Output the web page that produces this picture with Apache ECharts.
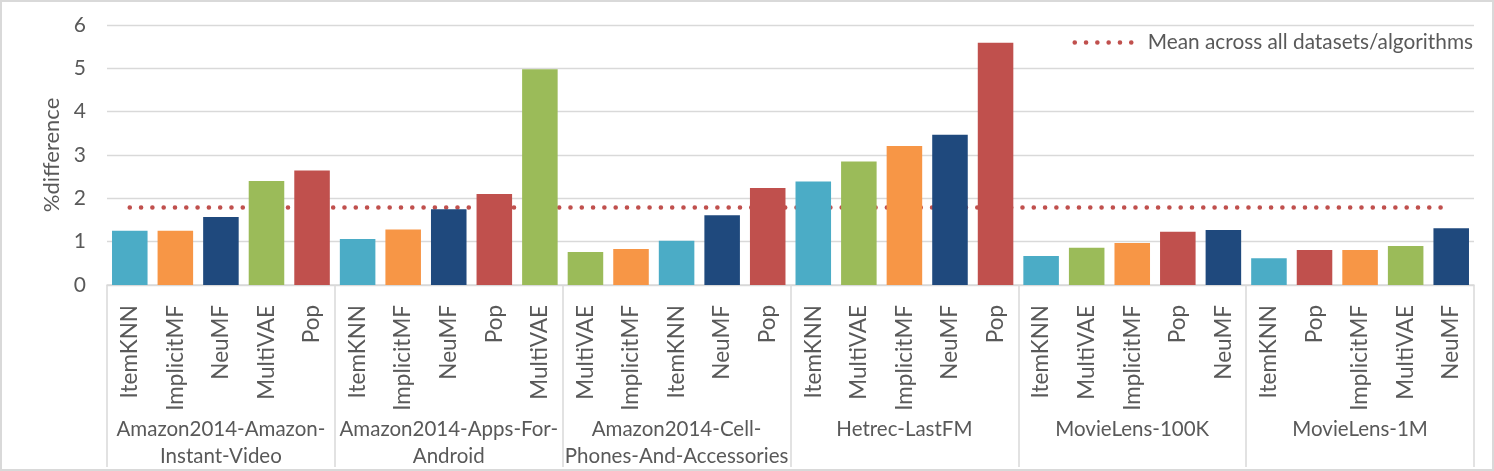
<!DOCTYPE html>
<html>
<head>
<meta charset="utf-8">
<script src="https://cdn.jsdelivr.net/npm/echarts@6/dist/echarts.min.js"></script>
<style>
  html, body { margin: 0; padding: 0; background: #fff; }
  #chart { width: 1494px; height: 471px; }
</style>
</head>
<body>
<div id="chart"></div>
<script>
// ---- data ----
const datasets = [
  'Amazon2014-Amazon-\nInstant-Video',
  'Amazon2014-Apps-For-\nAndroid',
  'Amazon2014-Cell-\nPhones-And-Accessories',
  'Hetrec-LastFM',
  'MovieLens-100K',
  'MovieLens-1M'
];
const algorithms = [
  'ItemKNN', 'ImplicitMF', 'NeuMF', 'MultiVAE', 'Pop',
  'ItemKNN', 'ImplicitMF', 'NeuMF', 'Pop', 'MultiVAE',
  'MultiVAE', 'ImplicitMF', 'ItemKNN', 'NeuMF', 'Pop',
  'ItemKNN', 'MultiVAE', 'ImplicitMF', 'NeuMF', 'Pop',
  'ItemKNN', 'MultiVAE', 'ImplicitMF', 'Pop', 'NeuMF',
  'ItemKNN', 'Pop', 'ImplicitMF', 'MultiVAE', 'NeuMF'
];
const values = [
  1.25, 1.25, 1.57, 2.40, 2.64,
  1.06, 1.28, 1.75, 2.10, 4.98,
  0.76, 0.83, 1.02, 1.61, 2.24,
  2.39, 2.85, 3.21, 3.47, 5.59,
  0.67, 0.86, 0.97, 1.23, 1.27,
  0.62, 0.81, 0.81, 0.90, 1.31
];
const meanValue = 1.79;
const yTicks = [0, 1, 2, 3, 4, 5, 6];
const meanName = 'Mean across all datasets/algorithms';
const yName = '%difference';

// ---- style ----
const algoColors = {
  ItemKNN: '#4BACC6',
  ImplicitMF: '#F79646',
  NeuMF: '#1F497D',
  MultiVAE: '#9BBB59',
  Pop: '#C0504D'
};
const FONT = 'Lato, "Liberation Sans", sans-serif';
const TXT = '#595959';
const GRIDC = '#D9D9D9';
const dotStyle = { color: '#C0504D', width: 4.6, type: [0, 11.3], cap: 'round' };

const chart = echarts.init(document.getElementById('chart'), null, { renderer: 'canvas' });

const option = {
  animation: false,
  backgroundColor: '#fff',
  textStyle: { fontFamily: FONT, color: TXT },
  graphic: [{
    type: 'rect',
    shape: { x: 1, y: 1, width: 1492, height: 469 },
    style: { fill: 'none', stroke: GRIDC, lineWidth: 2 },
    silent: true, z: -10
  }],
  legend: {
    right: 16,
    top: 27,
    itemWidth: 60,
    itemHeight: 14,
    lineStyle: dotStyle,
    itemStyle: { color: 'transparent', borderWidth: 0, opacity: 0 },
    textStyle: { fontFamily: FONT, fontSize: 20.8, color: TXT, padding: [0, 0, 0, 8] },
    data: [meanName]
  },
  grid: { left: 107, right: 20, top: 25, bottom: 186 },
  xAxis: [{
    type: 'category',
    data: algorithms,
    position: 'bottom',
    axisLine: { show: true, lineStyle: { color: GRIDC, width: 1.5 } },
    axisTick: { show: false },
    axisLabel: {
      interval: 0, rotate: 90, margin: 20,
      fontFamily: FONT, fontSize: 22.5, color: TXT
    }
  }, {
    type: 'category',
    data: datasets,
    position: 'bottom',
    axisLine: { show: false },
    axisTick: { show: true, length: 182, lineStyle: { color: GRIDC, width: 1.5 } },
    axisLabel: {
      interval: 0, margin: 131,
      fontFamily: FONT, fontSize: 20.5, color: TXT, lineHeight: 27
    }
  }],
  yAxis: {
    type: 'value',
    min: yTicks[0], max: yTicks[yTicks.length - 1], interval: 1,
    name: yName,
    nameLocation: 'middle',
    nameGap: 43,
    nameTextStyle: { fontFamily: FONT, fontSize: 22, color: TXT },
    axisLine: { show: false },
    axisTick: { show: false },
    axisLabel: { margin: 21, fontFamily: FONT, fontSize: 21, color: TXT },
    splitLine: { lineStyle: { color: GRIDC, width: 1.3 } }
  },
  series: [{
    type: 'bar',
    xAxisIndex: 0,
    barCategoryGap: '22%',
    z: 3,
    data: values.map((v, i) => ({ value: v, itemStyle: { color: algoColors[algorithms[i]] } }))
  }, {
    name: meanName,
    type: 'line',
    xAxisIndex: 0,
    z: 2,
    symbol: 'none',
    color: '#C0504D',
    lineStyle: dotStyle,
    data: algorithms.map(() => meanValue)
  }]
};
chart.setOption(option);
</script>
</body>
</html>
